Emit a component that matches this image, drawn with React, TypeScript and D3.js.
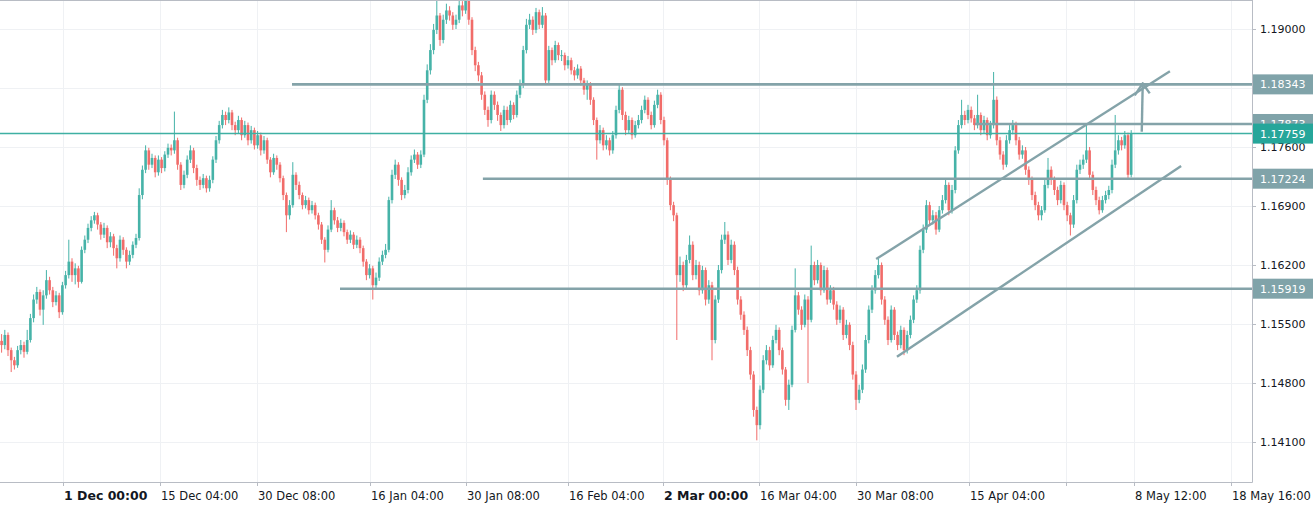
import React from "react";
import * as d3 from "d3";

// EURUSD-like 4H series (each entry ~8h), open of each candle = previous close
const firstOpen = 1.153;
const closes = [
  1.1525,1.1537,1.1519,1.1507,1.1501,1.1519,1.1525,1.1517,1.1531,1.1557,
  1.1579,1.1588,1.1567,1.1584,1.1602,1.1590,1.1576,1.1584,1.1564,1.1596,
  1.1608,1.1624,1.1608,1.1616,1.1600,1.1638,1.1650,1.1664,1.1673,1.1679,
  1.1668,1.1656,1.1664,1.1647,1.1654,1.1640,1.1628,1.1650,1.1638,1.1624,
  1.1632,1.1644,1.1652,1.1703,1.1733,1.1756,1.1739,1.1747,1.1730,1.1745,
  1.1735,1.1751,1.1759,1.1756,1.1768,1.1739,1.1715,1.1727,1.1745,1.1756,
  1.1735,1.1721,1.1715,1.1723,1.1711,1.1721,1.1745,1.1768,1.1786,1.1798,
  1.1792,1.1801,1.1786,1.1780,1.1792,1.1774,1.1786,1.1768,1.1780,1.1762,
  1.1774,1.1756,1.1768,1.1745,1.1730,1.1747,1.1739,1.1723,1.1703,1.1679,
  1.1691,1.1727,1.1715,1.1703,1.1691,1.1697,1.1685,1.1691,1.1679,1.1668,
  1.1650,1.1638,1.1662,1.1685,1.1673,1.1664,1.1670,1.1659,1.1650,1.1656,
  1.1644,1.1650,1.1640,1.1624,1.1608,1.1616,1.1596,1.1605,1.1624,1.1632,
  1.1638,1.1697,1.1727,1.1739,1.1721,1.1703,1.1709,1.1730,1.1745,1.1751,
  1.1739,1.1751,1.1816,1.1851,1.1875,1.1899,1.1916,1.1887,1.1911,1.1922,
  1.1916,1.1905,1.1911,1.1928,1.1922,1.1940,1.1911,1.1875,1.1857,1.1845,
  1.1822,1.1804,1.1792,1.1822,1.1810,1.1798,1.1786,1.1804,1.1792,1.1810,
  1.1798,1.1822,1.1834,1.1875,1.1905,1.1911,1.1899,1.1920,1.1905,1.1916,
  1.1839,1.1875,1.1863,1.1881,1.1869,1.1869,1.1857,1.1863,1.1851,1.1845,
  1.1853,1.1839,1.1828,1.1834,1.1816,1.1792,1.1768,1.1780,1.1762,1.1768,
  1.1756,1.1774,1.1804,1.1828,1.1798,1.1780,1.1792,1.1774,1.1786,1.1792,
  1.1804,1.1816,1.1798,1.1786,1.1810,1.1822,1.1792,1.1768,1.1721,1.1691,
  1.1679,1.1608,1.1620,1.1596,1.1626,1.1644,1.1608,1.1620,1.1590,1.1614,
  1.1579,1.1596,1.1531,1.1579,1.1614,1.1650,1.1656,1.1626,1.1644,1.1614,
  1.1579,1.1561,1.1543,1.1519,1.1490,1.1448,1.1430,1.1472,1.1507,1.1519,
  1.1501,1.1531,1.1543,1.1519,1.1496,1.1460,1.1478,1.1543,1.1584,1.1567,
  1.1549,1.1579,1.1555,1.1620,1.1602,1.1620,1.1590,1.1614,1.1579,1.1590,
  1.1573,1.1555,1.1567,1.1537,1.1549,1.1525,1.1490,1.1460,1.1472,1.1496,
  1.1531,1.1567,1.1590,1.1608,1.1620,1.1579,1.1555,1.1531,1.1567,1.1537,
  1.1525,1.1543,1.1519,1.1537,1.1555,1.1579,1.1590,1.1638,1.1662,1.1691,
  1.1673,1.1679,1.1662,1.1685,1.1697,1.1715,1.1685,1.1709,1.1756,1.1786,
  1.1798,1.1792,1.1804,1.1794,1.1786,1.1798,1.1780,1.1792,1.1774,1.1786,
  1.1816,1.1768,1.1751,1.1739,1.1768,1.1780,1.1786,1.1768,1.1751,1.1756,
  1.1733,1.1721,1.1703,1.1691,1.1679,1.1685,1.1715,1.1733,1.1721,1.1709,
  1.1697,1.1715,1.1691,1.1679,1.1668,1.1697,1.1733,1.1739,1.1745,1.1756,
  1.1727,1.1709,1.1697,1.1685,1.1697,1.1703,1.1709,1.1739,1.1756,1.1768,
  1.1762,1.1774,1.1727,1.17759,
];
const highs = [
  1.1538,1.1543,1.1540,1.1522,1.1511,1.1524,1.1531,1.1529,1.1543,1.1562,
  1.1585,1.1594,1.1591,1.1590,1.1614,1.1606,1.1594,1.1589,1.1587,1.1600,
  1.1613,1.1650,1.1628,1.1622,1.1619,1.1642,1.1655,1.1669,1.1678,1.1683,
  1.1682,1.1671,1.1670,1.1667,1.1659,1.1657,1.1644,1.1655,1.1653,1.1641,
  1.1637,1.1648,1.1657,1.1711,1.1738,1.1762,1.1759,1.1752,1.1750,1.1750,
  1.1748,1.1755,1.1764,1.1763,1.1802,1.1771,1.1742,1.1732,1.1750,1.1762,
  1.1759,1.1739,1.1725,1.1728,1.1726,1.1726,1.1749,1.1773,1.1791,1.1804,
  1.1802,1.1807,1.1804,1.1790,1.1797,1.1795,1.1791,1.1789,1.1785,1.1783,
  1.1779,1.1777,1.1773,1.1771,1.1748,1.1752,1.1750,1.1742,1.1726,1.1706,
  1.1697,1.1742,1.1730,1.1719,1.1706,1.1702,1.1700,1.1696,1.1694,1.1682,
  1.1671,1.1653,1.1667,1.1697,1.1688,1.1677,1.1675,1.1673,1.1662,1.1661,
  1.1659,1.1655,1.1653,1.1643,1.1627,1.1621,1.1619,1.1611,1.1629,1.1637,
  1.1645,1.1701,1.1733,1.1745,1.1742,1.1724,1.1715,1.1736,1.1750,1.1757,
  1.1754,1.1756,1.1822,1.1858,1.1882,1.1906,1.1940,1.1919,1.1917,1.1930,
  1.1927,1.1920,1.1917,1.1936,1.1933,1.1950,1.1944,1.1914,1.1879,1.1861,
  1.1849,1.1826,1.1808,1.1827,1.1826,1.1814,1.1801,1.1809,1.1808,1.1815,
  1.1813,1.1827,1.1840,1.1880,1.1912,1.1918,1.1915,1.1925,1.1923,1.1926,
  1.1919,1.1880,1.1878,1.1886,1.1884,1.1875,1.1872,1.1868,1.1866,1.1855,
  1.1858,1.1856,1.1842,1.1839,1.1837,1.1819,1.1795,1.1786,1.1783,1.1774,
  1.1771,1.1779,1.1809,1.1834,1.1831,1.1802,1.1797,1.1795,1.1791,1.1798,
  1.1809,1.1821,1.1819,1.1802,1.1815,1.1828,1.1825,1.1796,1.1771,1.1725,
  1.1695,1.1682,1.1630,1.1624,1.1632,1.1655,1.1648,1.1626,1.1624,1.1619,
  1.1617,1.1602,1.1600,1.1584,1.1620,1.1656,1.1671,1.1660,1.1650,1.1648,
  1.1618,1.1583,1.1565,1.1547,1.1523,1.1494,1.1452,1.1477,1.1513,1.1525,
  1.1523,1.1536,1.1549,1.1546,1.1522,1.1499,1.1484,1.1548,1.1616,1.1588,
  1.1571,1.1585,1.1583,1.1643,1.1624,1.1626,1.1623,1.1619,1.1617,1.1596,
  1.1594,1.1577,1.1572,1.1570,1.1555,1.1552,1.1529,1.1494,1.1478,1.1502,
  1.1537,1.1572,1.1596,1.1614,1.1628,1.1623,1.1583,1.1559,1.1572,1.1570,
  1.1541,1.1548,1.1546,1.1542,1.1560,1.1584,1.1596,1.1643,1.1668,1.1697,
  1.1695,1.1685,1.1683,1.1690,1.1703,1.1721,1.1718,1.1715,1.1761,1.1792,
  1.1816,1.1803,1.1810,1.1808,1.1798,1.1822,1.1801,1.1797,1.1795,1.1791,
  1.1849,1.1820,1.1772,1.1755,1.1774,1.1786,1.1792,1.1790,1.1772,1.1762,
  1.1760,1.1737,1.1725,1.1707,1.1695,1.1690,1.1721,1.1747,1.1737,1.1725,
  1.1713,1.1720,1.1718,1.1695,1.1682,1.1703,1.1739,1.1745,1.1751,1.1786,
  1.1760,1.1731,1.1713,1.1701,1.1702,1.1708,1.1714,1.1745,1.1798,1.1774,
  1.1772,1.1779,1.1777,1.1780,
];
const lows = [
  1.1516,1.1520,1.1512,1.1493,1.1496,1.1498,1.1514,1.1510,1.1514,1.1528,
  1.1552,1.1574,1.1560,1.1549,1.1580,1.1585,1.1570,1.1572,1.1557,1.1561,
  1.1592,1.1604,1.1600,1.1597,1.1593,1.1598,1.1634,1.1646,1.1660,1.1669,
  1.1662,1.1650,1.1652,1.1640,1.1641,1.1631,1.1616,1.1624,1.1632,1.1616,
  1.1620,1.1628,1.1640,1.1649,1.1698,1.1729,1.1733,1.1735,1.1724,1.1726,
  1.1729,1.1731,1.1747,1.1750,1.1752,1.1733,1.1709,1.1711,1.1723,1.1741,
  1.1729,1.1714,1.1709,1.1711,1.1706,1.1707,1.1717,1.1741,1.1764,1.1782,
  1.1786,1.1788,1.1780,1.1774,1.1776,1.1768,1.1771,1.1762,1.1764,1.1757,
  1.1758,1.1750,1.1752,1.1740,1.1724,1.1727,1.1733,1.1718,1.1697,1.1659,
  1.1674,1.1688,1.1709,1.1698,1.1686,1.1687,1.1680,1.1681,1.1674,1.1662,
  1.1645,1.1623,1.1635,1.1659,1.1668,1.1659,1.1660,1.1654,1.1645,1.1646,
  1.1639,1.1640,1.1634,1.1618,1.1602,1.1604,1.1579,1.1592,1.1601,1.1620,
  1.1628,1.1635,1.1693,1.1722,1.1714,1.1697,1.1699,1.1705,1.1726,1.1741,
  1.1734,1.1735,1.1748,1.1812,1.1846,1.1870,1.1894,1.1880,1.1883,1.1906,
  1.1910,1.1899,1.1900,1.1907,1.1915,1.1918,1.1905,1.1869,1.1850,1.1838,
  1.1816,1.1798,1.1784,1.1788,1.1804,1.1791,1.1779,1.1782,1.1786,1.1789,
  1.1793,1.1795,1.1818,1.1830,1.1871,1.1900,1.1893,1.1895,1.1900,1.1901,
  1.1834,1.1836,1.1857,1.1860,1.1863,1.1862,1.1851,1.1853,1.1846,1.1839,
  1.1841,1.1833,1.1822,1.1816,1.1810,1.1786,1.1745,1.1764,1.1756,1.1757,
  1.1750,1.1752,1.1770,1.1800,1.1792,1.1774,1.1776,1.1769,1.1771,1.1782,
  1.1788,1.1800,1.1793,1.1781,1.1783,1.1806,1.1787,1.1762,1.1715,1.1685,
  1.1672,1.1531,1.1600,1.1589,1.1592,1.1622,1.1602,1.1603,1.1584,1.1586,
  1.1572,1.1574,1.1507,1.1527,1.1575,1.1610,1.1645,1.1620,1.1622,1.1608,
  1.1573,1.1555,1.1537,1.1512,1.1484,1.1440,1.1412,1.1425,1.1468,1.1502,
  1.1495,1.1498,1.1527,1.1513,1.1490,1.1453,1.1448,1.1475,1.1540,1.1561,
  1.1543,1.1546,1.1480,1.1552,1.1596,1.1598,1.1584,1.1587,1.1573,1.1575,
  1.1567,1.1549,1.1551,1.1531,1.1533,1.1519,1.1484,1.1448,1.1456,1.1468,
  1.1492,1.1527,1.1563,1.1586,1.1604,1.1573,1.1549,1.1525,1.1528,1.1531,
  1.1519,1.1521,1.1513,1.1515,1.1533,1.1551,1.1575,1.1586,1.1634,1.1658,
  1.1667,1.1668,1.1656,1.1659,1.1681,1.1693,1.1679,1.1681,1.1705,1.1752,
  1.1782,1.1786,1.1788,1.1789,1.1780,1.1782,1.1774,1.1776,1.1768,1.1770,
  1.1782,1.1762,1.1745,1.1733,1.1736,1.1764,1.1775,1.1762,1.1745,1.1746,
  1.1727,1.1715,1.1697,1.1685,1.1673,1.1673,1.1682,1.1711,1.1715,1.1703,
  1.1691,1.1693,1.1685,1.1672,1.1655,1.1664,1.1693,1.1728,1.1734,1.1741,
  1.1721,1.1703,1.1691,1.1680,1.1682,1.1693,1.1698,1.1705,1.1735,1.1751,
  1.1756,1.1758,1.1721,1.1724,
];

const priceTicks = [1.141, 1.148, 1.155, 1.162, 1.169, 1.176, 1.183, 1.19];
const timeTickIndex = [19.2, 49.5, 79.8, 115.1, 145.1, 177.0, 206.7, 236.7, 267.0, 302.3, 332.6, 353.9, 384.2];
const timeTickLabels = [
  "1 Dec 00:00", "15 Dec 04:00", "30 Dec 08:00", "16 Jan 04:00", "30 Jan 08:00",
  "16 Feb 04:00", "2 Mar 00:00", "16 Mar 04:00", "30 Mar 08:00", "15 Apr 04:00",
  "", "8 May 12:00", "18 May 16:00",
];
const boldTimeLabels = ["1 Dec 00:00", "2 Mar 00:00"];

// horizontal levels: price and starting bar index
const levelPrices = [1.18343, 1.17873, 1.17224, 1.15919];
const levelStartIndex = [90.75, 304.2, 150.4, 105.75];
const upperChannel: [number, number][] = [[273.3, 1.1627], [365.1, 1.185]];
const lowerChannel: [number, number][] = [[279.8, 1.1511], [368.6, 1.17375]];
const arrowLine: [number, number][] = [[356.3, 1.17782], [356.6, 1.18355]];
const lastPrice = 1.17759;

const W = 1313;
const H = 509;
const PLOT_R = 1252;
const PLOT_B = 482;
const UP = "#26a69a";
const DOWN = "#ef5350";
const LINE = "#84a3a9";
const BOX = "#80a3a9";
const FONT = "'DejaVu Sans', Verdana, sans-serif";

export default function App() {
  const x = d3.scaleLinear().domain([0, closes.length - 1]).range([1.6, 1131.2]);
  const y = d3.scaleLinear().domain([1.141, 1.19]).range([442, 29]);
  const fmt = d3.format(".5f");
  const line = d3.line<[number, number]>().x((d) => x(d[0])).y((d) => y(d[1]));

  const candles = closes.map((c, i) => {
    const o = i === 0 ? firstOpen : closes[i - 1];
    const h = Math.max(highs[i], o, c);
    const l = Math.min(lows[i], o, c);
    return { i, o, c, h, l, up: c >= o };
  });

  const tip = [x(arrowLine[1][0]), y(arrowLine[1][1])];
  // tick labels covered by a price box are hidden, as on the reference axis
  const boxed = [...levelPrices, lastPrice].map((p) => y(p));
  const visibleTicks = priceTicks.filter((p) => boxed.every((b) => Math.abs(b - y(p)) > 10));

  return (
    <svg width={W} height={H} style={{ position: "absolute", left: 0, top: 0, background: "#fff" }} fontFamily={FONT}>
      <defs>
        <clipPath id="plot">
          <rect x={0} y={0} width={PLOT_R} height={PLOT_B} />
        </clipPath>
      </defs>
      <rect x={0} y={0} width={W} height={H} fill="#fff" />
      {/* grid */}
      <g stroke="#eff1f4" strokeWidth={1}>
        {priceTicks.map((p) => (
          <line key={p} x1={0} x2={PLOT_R} y1={Math.round(y(p)) + 0.5} y2={Math.round(y(p)) + 0.5} />
        ))}
        {timeTickIndex.map((t) => (
          <line key={t} x1={Math.round(x(t)) + 0.5} x2={Math.round(x(t)) + 0.5} y1={0} y2={PLOT_B} />
        ))}
      </g>
      <g clipPath="url(#plot)">
        {candles.map((d) => {
          const col = d.up ? UP : DOWN;
          const yt = y(Math.max(d.o, d.c));
          const yb = y(Math.min(d.o, d.c));
          return (
            <g key={d.i} opacity={0.85}>
              <line x1={x(d.i)} x2={x(d.i)} y1={y(d.h)} y2={y(d.l)} stroke={col} strokeWidth={1} />
              <rect x={x(d.i) - 1.3} y={yt} width={2.6} height={Math.max(1, yb - yt)} fill={col} />
            </g>
          );
        })}
        {levelPrices.map((p, k) => (
          <line key={p} x1={x(levelStartIndex[k])} x2={PLOT_R} y1={y(p)} y2={y(p)} stroke={LINE} strokeWidth={2.6} />
        ))}
        <path d={line(upperChannel) || ""} stroke={LINE} strokeWidth={2.4} fill="none" />
        <path d={line(lowerChannel) || ""} stroke={LINE} strokeWidth={2.4} fill="none" />
        <path d={line(arrowLine) || ""} stroke={LINE} strokeWidth={2.4} fill="none" />
        <path
          d={`M${tip[0] - 8},${tip[1] + 12}L${tip[0]},${tip[1]}L${tip[0] + 7},${tip[1] + 10}`}
          stroke={LINE}
          strokeWidth={2.4}
          fill="none"
          strokeLinejoin="round"
        />
        <line x1={0} x2={PLOT_R} y1={y(lastPrice)} y2={y(lastPrice)} stroke="#3fb0a3" strokeWidth={1.5} />
      </g>
      {/* borders */}
      <g stroke="#b8bcc4" strokeWidth={1}>
        <line x1={0} x2={PLOT_R} y1={0.5} y2={0.5} />
        <line x1={0} x2={PLOT_R + 0.5} y1={PLOT_B + 0.5} y2={PLOT_B + 0.5} />
        <line x1={PLOT_R + 0.5} x2={PLOT_R + 0.5} y1={0} y2={PLOT_B + 0.5} />
      </g>
      {/* time axis */}
      <g>
        {timeTickIndex.map((t, k) => (
          <g key={t}>
            <line x1={Math.round(x(t)) + 0.5} x2={Math.round(x(t)) + 0.5} y1={PLOT_B} y2={PLOT_B + 4} stroke="#b8bcc4" />
            {timeTickLabels[k] && (
              <text
                x={Math.round(x(t)) + 1}
                y={500}
                fontSize={boldTimeLabels.includes(timeTickLabels[k]) ? 12.5 : 11.5}
                fontWeight={boldTimeLabels.includes(timeTickLabels[k]) ? "bold" : "normal"}
                fill="#131722"
              >
                {timeTickLabels[k]}
              </text>
            )}
          </g>
        ))}
      </g>
      {/* price axis */}
      <g>
        {priceTicks.map((p) => (
          <line key={p} x1={PLOT_R} x2={PLOT_R + 4} y1={Math.round(y(p)) + 0.5} y2={Math.round(y(p)) + 0.5} stroke="#b8bcc4" />
        ))}
        {visibleTicks.map((p) => (
          <text key={p} x={1260} y={y(p) + 4} fontSize={11} fill="#131722">
            {fmt(p)}
          </text>
        ))}
        {levelPrices.map((p) => (
          <g key={p}>
            <rect x={PLOT_R + 1} y={y(p) - 10} width={W - PLOT_R - 1} height={20} fill={BOX} />
            <text x={1260} y={y(p) + 4} fontSize={11} fill="#ffffff">
              {fmt(p)}
            </text>
          </g>
        ))}
        <rect x={PLOT_R + 1} y={y(lastPrice) - 10} width={W - PLOT_R - 1} height={20} fill={UP} />
        <text x={1260} y={y(lastPrice) + 4} fontSize={11} fill="#ffffff">
          {fmt(lastPrice)}
        </text>
      </g>
    </svg>
  );
}
